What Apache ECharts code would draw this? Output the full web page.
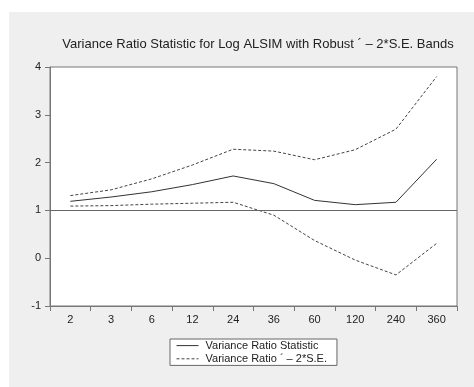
<!DOCTYPE html>
<html>
<head>
<meta charset="utf-8">
<script src="https://cdn.jsdelivr.net/npm/echarts@6/dist/echarts.min.js"></script>
<style>
  html, body { margin: 0; padding: 0; background: #fff; }
  #chart { width: 474px; height: 387px; }
</style>
</head>
<body>
<div id="chart"></div>
<script>
// lags (categories)
const lags = ['2', '3', '6', '12', '24', '36', '60', '120', '240', '360']
// variance ratio statistic
const vrStat = [1.19, 1.28, 1.39, 1.54, 1.72, 1.56, 1.21, 1.12, 1.17, 2.07]
// +/- 2*S.E. bands
const upperBand = [1.31, 1.43, 1.66, 1.95, 2.28, 2.24, 2.06, 2.27, 2.70, 3.80]
const lowerBand = [1.09, 1.10, 1.13, 1.15, 1.17, 0.90, 0.37, -0.04, -0.35, 0.31]
const yTicks = [-1, 0, 1, 2, 3, 4]

const font = 'Liberation Sans, Arial, sans-serif'
const ink = '#222'
const bandName = 'Variance Ratio \u00b4 \u2013 2*S.E.'

const chart = echarts.init(document.getElementById('chart'))

const option = {
  animation: false,
  backgroundColor: '#fff',
  graphic: [
    {
      type: 'rect',
      z: -10,
      shape: { x: 9, y: 12, width: 465, height: 375 },
      style: { fill: '#efefef' }
    }
  ],
  title: {
    text: 'Variance Ratio Statistic for Log ALSIM with Robust \u00b4 \u2013 2*S.E. Bands',
    left: 253,
    textAlign: 'center',
    top: 33,
    textStyle: { fontFamily: font, fontSize: 13, fontWeight: 'normal', color: ink }
  },
  legend: {
    orient: 'vertical',
    left: 170,
    top: 339,
    itemWidth: 22,
    itemHeight: 14,
    itemGap: 2,
    padding: [1, 10, 1, 6],
    borderColor: '#666',
    borderWidth: 1,
    backgroundColor: '#fff',
    itemStyle: { opacity: 0 },
    lineStyle: { width: 1 },
    data: ['Variance Ratio Statistic', bandName],
    textStyle: { fontFamily: font, fontSize: 11, color: ink, padding: [0, 0, 0, 2] }
  },
  grid: {
    left: 50,
    right: 17,
    top: 67,
    bottom: 81,
    show: true,
    backgroundColor: '#fff',
    borderColor: '#777',
    borderWidth: 1
  },
  xAxis: {
    type: 'category',
    data: lags,
    boundaryGap: true,
    axisLine: { onZero: false, lineStyle: { color: '#777' } },
    axisTick: { show: true, length: 5, lineStyle: { color: '#777' } },
    axisLabel: { fontFamily: font, fontSize: 11, color: ink, margin: 8 },
    splitLine: { show: false }
  },
  yAxis: {
    type: 'value',
    min: yTicks[0],
    max: yTicks[yTicks.length - 1],
    interval: 1,
    axisLine: { show: true, lineStyle: { color: '#777' } },
    axisTick: { show: true, length: 5, lineStyle: { color: '#777' } },
    axisLabel: { fontFamily: font, fontSize: 11, color: ink, margin: 9 },
    splitLine: { show: false }
  },
  series: [
    {
      name: 'Variance Ratio Statistic',
      type: 'line',
      data: vrStat,
      symbol: 'none',
      lineStyle: { color: '#333', width: 1 },
      itemStyle: { color: '#333' },
      markLine: {
        silent: true,
        symbol: 'none',
        label: { show: false },
        lineStyle: { color: '#666', width: 1, type: 'solid' },
        data: [{ yAxis: 1 }]
      }
    },
    {
      name: bandName,
      type: 'line',
      data: upperBand,
      symbol: 'none',
      lineStyle: { color: '#444', width: 1, type: [3, 2] },
      itemStyle: { color: '#444' }
    },
    {
      name: bandName,
      type: 'line',
      data: lowerBand,
      symbol: 'none',
      lineStyle: { color: '#444', width: 1, type: [3, 2] },
      itemStyle: { color: '#444' }
    }
  ]
}

chart.setOption(option)
</script>
</body>
</html>
